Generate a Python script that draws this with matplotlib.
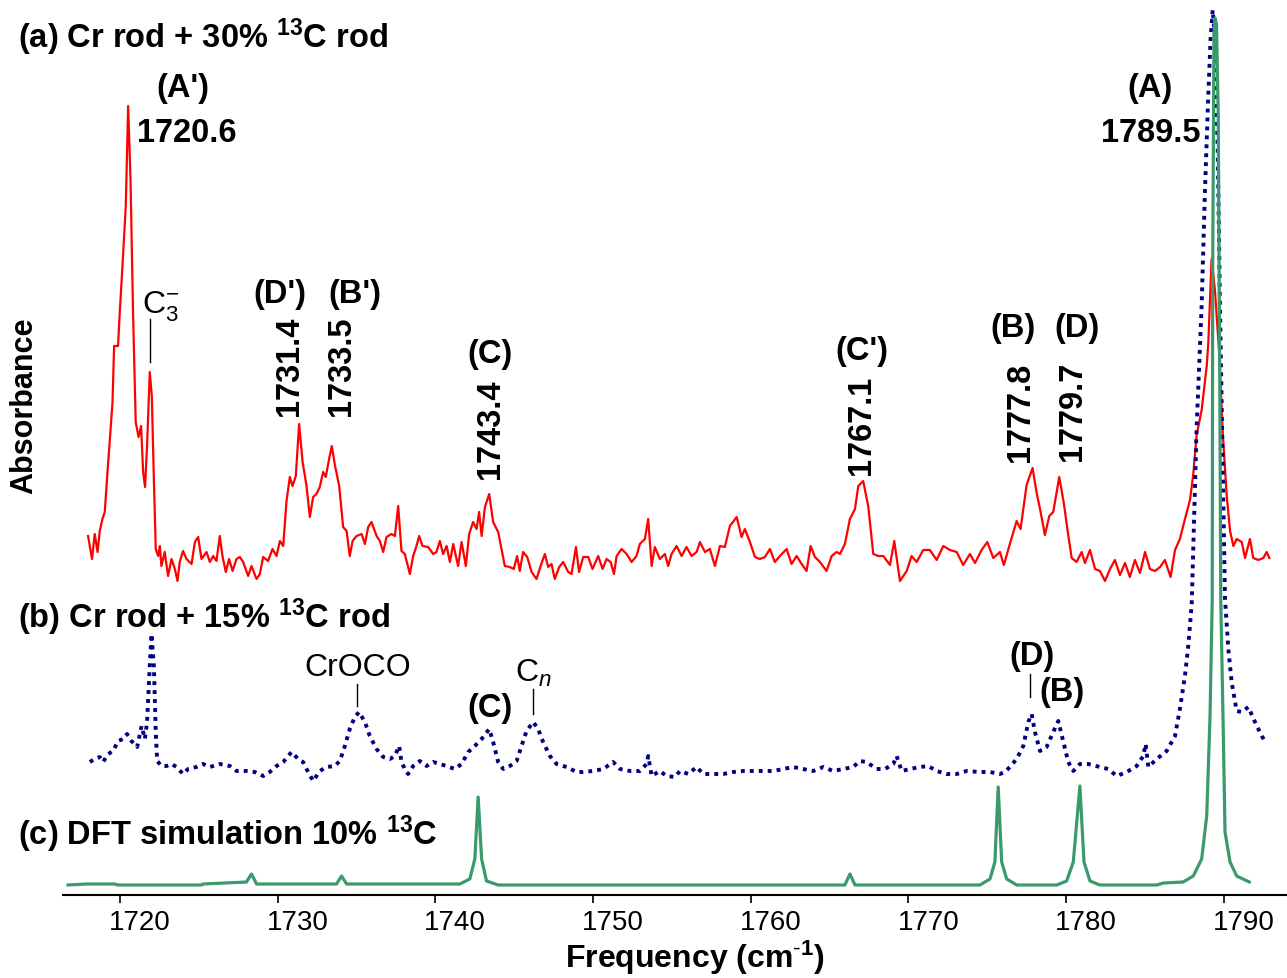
import numpy as np
import matplotlib.pyplot as plt
from matplotlib.transforms import ScaledTranslation

plt.rcParams['font.family'] = ['Liberation Sans', 'DejaVu Sans']
plt.rcParams['mathtext.fontset'] = 'custom'
plt.rcParams['mathtext.rm'] = 'Liberation Sans'
plt.rcParams['mathtext.it'] = 'Liberation Sans:italic'
plt.rcParams['mathtext.bf'] = 'Liberation Sans:bold'

# (a) Cr rod + 30% 13C rod
red_freq = [1717.99, 1718.24, 1718.41, 1718.59, 1718.73, 1718.90, 1719.05, 1719.19, 1719.37, 1719.54,
            1719.64, 1719.89, 1720.00, 1720.17, 1720.38, 1720.53, 1720.68, 1720.84, 1721.01, 1721.19,
            1721.35, 1721.48, 1721.60, 1721.73, 1721.90, 1722.03, 1722.16, 1722.28, 1722.43, 1722.54,
            1722.64, 1722.85, 1723.06, 1723.28, 1723.49, 1723.66, 1723.80, 1724.01, 1724.23, 1724.55,
            1724.76, 1724.97, 1725.18, 1725.50, 1725.71, 1725.92, 1726.13, 1726.34, 1726.51, 1726.72,
            1726.93, 1727.15, 1727.40, 1727.61, 1727.82, 1728.14, 1728.35, 1728.67, 1728.88, 1729.09,
            1729.40, 1729.68, 1729.94, 1730.15, 1730.36, 1730.57, 1730.78, 1730.95, 1731.16, 1731.37,
            1731.59, 1731.84, 1732.05, 1732.26, 1732.47, 1732.68, 1732.89, 1733.06, 1733.27, 1733.44,
            1733.65, 1733.91, 1734.16, 1734.38, 1734.58, 1734.76, 1735.01, 1735.33, 1735.54, 1735.75,
            1735.96, 1736.28, 1736.49, 1736.70, 1736.91, 1737.23, 1737.44, 1737.65, 1737.86, 1738.07,
            1738.39, 1738.60, 1738.81, 1738.98, 1739.19, 1739.55, 1739.87, 1740.08, 1740.29, 1740.50,
            1740.72, 1740.93, 1741.14, 1741.45, 1741.67, 1741.94, 1742.15, 1742.40, 1742.62, 1742.78,
            1742.94, 1743.15, 1743.42, 1743.67, 1743.99, 1744.41, 1744.73, 1744.98, 1745.19, 1745.36,
            1745.57, 1745.83, 1746.11, 1746.42, 1746.68, 1746.95, 1747.16, 1747.37, 1747.58, 1747.86,
            1748.11, 1748.43, 1748.64, 1748.92, 1749.12, 1749.38, 1749.70, 1749.97, 1750.33, 1750.61,
            1750.86, 1751.12, 1751.33, 1751.50, 1751.81, 1752.13, 1752.45, 1752.76, 1752.97, 1753.29,
            1753.50, 1753.72, 1753.92, 1754.24, 1754.56, 1754.77, 1754.98, 1755.30, 1755.62, 1755.93,
            1756.25, 1756.57, 1756.78, 1757.10, 1757.41, 1757.73, 1758.05, 1758.36, 1758.68, 1759.11,
            1759.42, 1759.63, 1759.95, 1760.27, 1760.58, 1760.90, 1761.22, 1761.53, 1761.85, 1762.28,
            1762.59, 1762.91, 1763.23, 1763.54, 1763.80, 1764.07, 1764.39, 1764.81, 1765.13, 1765.45,
            1765.66, 1765.97, 1766.29, 1766.61, 1766.82, 1767.13, 1767.45, 1767.77, 1768.08, 1768.40,
            1768.83, 1769.10, 1769.46, 1769.89, 1770.20, 1770.52, 1770.94, 1771.36, 1771.79, 1772.21,
            1772.63, 1773.06, 1773.47, 1773.90, 1774.22, 1774.64, 1775.00, 1775.38, 1775.80, 1776.05,
            1776.43, 1776.86, 1777.11, 1777.49, 1777.87, 1778.13, 1778.38, 1778.65, 1778.93, 1779.18,
            1779.56, 1779.86, 1780.13, 1780.35, 1780.66, 1780.98, 1781.19, 1781.51, 1781.83, 1782.14,
            1782.46, 1782.78, 1783.09, 1783.41, 1783.73, 1784.04, 1784.36, 1784.68, 1785.00, 1785.31,
            1785.63, 1785.95, 1786.26, 1786.62, 1786.90, 1787.21, 1787.53, 1787.85, 1788.06, 1788.27,
            1788.59, 1788.91, 1789.01, 1789.22, 1789.43, 1789.71, 1789.92, 1790.18, 1790.39, 1790.60,
            1790.81, 1791.13, 1791.34, 1791.65, 1791.86, 1792.18, 1792.50, 1792.71, 1792.88]
red_abs = [0.23, 0.00, 0.25, 0.07, 0.28, 0.40, 0.47, 0.80, 1.20, 1.57,
           2.13, 2.13, 2.47, 2.93, 3.53, 4.53, 3.80, 2.47, 1.37, 1.22,
           1.33, 0.87, 0.72, 1.13, 1.87, 1.63, 0.80, 0.10, 0.03, 0.13,
           -0.07, 0.07, -0.17, 0.00, -0.10, -0.22, -0.03, 0.08, 0.00, -0.05,
           0.17, 0.22, 0.00, 0.07, -0.03, 0.03, -0.02, 0.23, 0.03, -0.13,
           0.00, -0.12, 0.00, 0.02, -0.03, -0.17, -0.07, -0.20, -0.15, 0.02,
           -0.02, 0.10, 0.03, 0.18, 0.13, 0.58, 0.82, 0.73, 0.83, 1.35,
           0.97, 0.73, 0.42, 0.62, 0.65, 0.72, 0.87, 0.82, 1.00, 1.13,
           0.93, 0.73, 0.32, 0.28, 0.03, 0.18, 0.23, 0.25, 0.15, 0.32,
           0.37, 0.23, 0.18, 0.07, 0.22, 0.25, 0.23, 0.53, 0.08, 0.05,
           -0.15, 0.03, 0.13, 0.23, 0.13, 0.12, 0.05, 0.07, 0.18, 0.05,
           0.13, -0.03, 0.15, -0.07, 0.17, -0.07, 0.25, 0.37, 0.30, 0.47,
           0.23, 0.52, 0.65, 0.37, 0.27, -0.07, -0.08, -0.10, 0.03, -0.12,
           0.07, 0.02, -0.13, -0.20, -0.07, 0.05, -0.08, -0.05, -0.20, -0.08,
           -0.03, -0.13, -0.15, 0.12, -0.13, 0.02, 0.02, -0.10, 0.03, -0.10,
           0.00, -0.03, -0.15, 0.03, 0.10, 0.05, -0.03, 0.03, 0.15, 0.20,
           0.40, -0.07, 0.12, 0.00, 0.05, -0.07, 0.05, 0.13, 0.03, 0.12,
           0.03, 0.07, 0.17, 0.07, 0.10, -0.07, 0.13, 0.12, 0.33, 0.42,
           0.22, 0.30, 0.17, 0.02, 0.00, 0.02, 0.10, -0.03, 0.03, 0.10,
           -0.05, 0.03, -0.05, -0.12, 0.13, 0.02, -0.03, -0.12, 0.03, 0.07,
           0.05, 0.15, 0.40, 0.50, 0.73, 0.78, 0.53, 0.05, 0.03, 0.03,
           -0.06, 0.18, -0.22, -0.12, 0.03, -0.03, 0.09, 0.09, -0.01, 0.13,
           0.09, 0.07, -0.06, 0.05, -0.04, 0.09, 0.17, 0.01, 0.07, -0.06,
           0.15, 0.38, 0.30, 0.74, 0.91, 0.66, 0.47, 0.24, 0.43, 0.47,
           0.82, 0.55, 0.24, 0.01, -0.03, 0.07, -0.04, 0.09, -0.10, -0.12,
           -0.22, -0.10, -0.01, -0.16, -0.04, -0.18, -0.01, -0.14, 0.07, -0.10,
           -0.12, -0.08, -0.01, -0.18, 0.09, 0.20, 0.40, 0.59, 0.85, 1.24,
           1.49, 1.93, 2.16, 3.00, 2.69, 2.04, 1.28, 0.63, 0.28, 0.13,
           0.20, 0.17, 0.01, 0.20, 0.01, -0.01, 0.01, 0.07, 0.01]

# (b) Cr rod + 15% 13C rod
blue_freq = [1718.10, 1718.41, 1718.73, 1718.94, 1719.26, 1719.58, 1719.89, 1720.21, 1720.46, 1720.74,
             1721.10, 1721.38, 1721.59, 1721.73, 1721.90, 1722.01, 1722.16, 1722.28, 1722.37, 1722.64,
             1722.96, 1723.28, 1723.60, 1724.01, 1724.33, 1724.86, 1725.28, 1725.71, 1726.34, 1726.98,
             1727.40, 1728.03, 1728.56, 1729.09, 1729.51, 1729.94, 1730.36, 1730.89, 1731.31, 1731.62,
             1731.94, 1732.26, 1732.68, 1733.11, 1733.63, 1733.95, 1734.27, 1734.58, 1734.90, 1735.17,
             1735.54, 1735.85, 1736.28, 1736.70, 1737.12, 1737.44, 1737.71, 1737.86, 1738.07, 1738.28,
             1738.60, 1739.02, 1739.45, 1739.87, 1740.29, 1740.72, 1741.24, 1741.67, 1742.09, 1742.51,
             1742.94, 1743.42, 1743.67, 1743.99, 1744.31, 1744.73, 1745.16, 1745.47, 1745.79, 1746.21,
             1746.52, 1746.84, 1747.27, 1747.69, 1748.33, 1748.96, 1749.38, 1750.01, 1750.65, 1751.28,
             1751.71, 1752.34, 1752.97, 1753.40, 1753.50, 1753.72, 1754.24, 1754.67, 1755.19, 1755.51,
             1756.04, 1756.57, 1756.99, 1757.62, 1758.26, 1758.89, 1759.52, 1760.16, 1760.79, 1761.43,
             1762.06, 1762.69, 1763.33, 1763.96, 1764.60, 1765.23, 1765.87, 1766.50, 1766.92, 1767.35,
             1767.98, 1768.51, 1769.04, 1769.25, 1769.57, 1770.09, 1770.73, 1771.25, 1771.79, 1772.42,
             1773.06, 1773.69, 1774.53, 1775.17, 1775.80, 1776.12, 1776.43, 1776.86, 1777.28, 1777.60,
             1777.81, 1778.02, 1778.34, 1778.76, 1779.18, 1779.50, 1779.82, 1780.13, 1780.45, 1780.87,
             1781.40, 1782.14, 1782.67, 1783.20, 1783.84, 1784.47, 1784.89, 1785.04, 1785.21, 1785.74,
             1786.37, 1786.90, 1787.21, 1787.53, 1787.74, 1787.96, 1788.27, 1788.59, 1788.80, 1789.01,
             1789.16, 1789.29, 1789.43, 1789.61, 1789.75, 1789.92, 1790.07, 1790.28, 1790.49, 1790.81,
             1791.13, 1791.55, 1791.97, 1792.40, 1792.60]
blue_abs = [0.07, 0.10, 0.12, 0.07, 0.15, 0.18, 0.28, 0.30, 0.35, 0.28,
            0.22, 0.43, 0.30, 0.47, 1.03, 1.35, 1.03, 0.37, 0.08, 0.03,
            0.03, 0.05, 0.02, -0.05, 0.00, 0.02, 0.05, 0.02, 0.05, 0.03,
            -0.02, -0.02, -0.03, -0.07, -0.03, 0.03, 0.07, 0.17, 0.10, 0.07,
            -0.03, -0.12, -0.02, 0.02, 0.03, 0.08, 0.23, 0.40, 0.52, 0.57,
            0.47, 0.33, 0.20, 0.12, 0.10, 0.13, 0.23, 0.07, 0.00, -0.05,
            0.03, 0.08, 0.03, 0.07, 0.05, 0.03, 0.00, 0.05, 0.17, 0.23,
            0.30, 0.40, 0.27, 0.07, 0.00, 0.03, 0.08, 0.23, 0.38, 0.47,
            0.40, 0.27, 0.13, 0.05, 0.02, -0.03, -0.03, -0.02, 0.00, 0.07,
            0.00, -0.02, -0.02, 0.05, 0.13, -0.07, -0.02, -0.07, -0.08, -0.02,
            -0.05, 0.02, -0.05, -0.05, -0.05, -0.03, -0.02, -0.02, -0.02, -0.02,
            0.00, 0.02, 0.00, -0.02, 0.02, -0.02, 0.00, 0.02, 0.08, 0.07,
            0.00, 0.00, 0.05, 0.13, -0.02, 0.00, 0.02, 0.03, -0.02, -0.05,
            -0.05, -0.02, -0.03, -0.03, -0.05, -0.03, 0.02, 0.10, 0.23, 0.47,
            0.55, 0.37, 0.18, 0.22, 0.37, 0.48, 0.27, 0.07, -0.02, 0.05,
            0.05, 0.02, 0.00, -0.07, -0.03, 0.03, 0.13, 0.25, 0.02, 0.10,
            0.18, 0.33, 0.60, 0.93, 1.23, 1.65, 3.41, 4.64, 5.79, 6.74,
            7.32, 7.59, 7.32, 6.17, 4.64, 3.11, 1.70, 1.20, 0.87, 0.58,
            0.57, 0.62, 0.47, 0.33, 0.28]

# (c) DFT simulation 10% 13C
green_freq = [1716.72, 1717.89, 1719.68, 1719.89, 1725.18, 1725.28, 1728.03, 1728.35, 1728.67, 1733.74,
              1734.06, 1734.38, 1741.56, 1742.19, 1742.51, 1742.72, 1742.94, 1743.25, 1743.99, 1765.97,
              1766.29, 1766.61, 1774.53, 1775.17, 1775.48, 1775.69, 1775.91, 1776.23, 1776.86, 1779.40,
              1780.03, 1780.45, 1780.87, 1781.13, 1781.51, 1782.14, 1785.74, 1786.16, 1787.42, 1788.06,
              1788.59, 1788.91, 1789.12, 1789.26, 1789.29, 1789.37, 1789.43, 1789.53, 1789.64, 1789.75,
              1789.80, 1789.96, 1790.07, 1790.39, 1790.81, 1791.61]
green_abs = [0.00, 0.01, 0.01, 0.00, 0.00, 0.01, 0.03, 0.11, 0.01, 0.01,
             0.09, 0.01, 0.01, 0.06, 0.26, 0.88, 0.26, 0.04, 0.00, 0.00,
             0.11, 0.00, 0.00, 0.06, 0.23, 0.98, 0.23, 0.06, 0.00, 0.00,
             0.04, 0.23, 0.99, 0.23, 0.04, 0.00, 0.00, 0.02, 0.03, 0.09,
             0.26, 0.69, 1.69, 2.86, 6.18, 8.48, 8.67, 8.61, 7.71, 4.65,
             2.86, 1.53, 0.53, 0.23, 0.09, 0.03]

tick_vals = [1720, 1730, 1740, 1750, 1760, 1770, 1780, 1790]

fig = plt.figure(figsize=(12.87, 9.79), dpi=100)
ax = fig.add_axes([63 / 1287, 83 / 979, 1224 / 1287, 896 / 979])

# vertical offsets for stacking the three traces
ax.plot(red_freq, np.array(red_abs) + 3.36, color='#ff0000', lw=1.6)
ax.plot(blue_freq, np.array(blue_abs) + 1.26, color='#000080', lw=2.8, ls=(0, (1, 1.3)))
ax.plot(green_freq, np.array(green_abs) + 0.10, color='#3a9a6b', lw=2.3)

ax.set_xlim(1716.4, 1794.0)
ax.set_ylim(0, 8.96)
for s in ['top', 'right', 'left']:
    ax.spines[s].set_visible(False)
ax.spines['bottom'].set_linewidth(1.5)
ax.set_yticks([])
ax.set_xticks(tick_vals)
ax.set_xticklabels([str(t) for t in tick_vals])
ax.tick_params(axis='x', direction='out', length=6, width=1.2, labelsize=20, pad=4)
shift = ScaledTranslation(0.2, 0, fig.dpi_scale_trans)
for lab in ax.get_xticklabels():
    lab.set_transform(lab.get_transform() + shift)

xlab = fig.text(695 / 1287, 21 / 979, r'Frequency (cm$^{\mathbf{\text{-}1}}$)', fontsize=23,
                fontweight='bold', ha='center', va='center')
try:
    fig.canvas.draw()
except Exception:
    xlab.set_text(r'Frequency (cm$^{\mathbf{-1}}$)')

fig.text(24 / 1287, 573 / 979, 'Absorbance', fontsize=22, fontweight='bold', rotation=90,
         ha='center', va='center')

fig.text(18 / 1287, 942 / 979, r'(a) Cr rod + 30% $^{\mathbf{13}}$C rod', fontsize=23.5,
         fontweight='bold', ha='left', va='center')
fig.text(18 / 1287, 362 / 979, r'(b) Cr rod + 15% $^{\mathbf{13}}$C rod', fontsize=23.5,
         fontweight='bold', ha='left', va='center')
fig.text(18 / 1287, 145 / 979, r'(c) DFT simulation 10% $^{\mathbf{13}}$C', fontsize=23.5,
         fontweight='bold', ha='left', va='center')

bold = dict(fontsize=23.5, fontweight='bold', ha='center', va='center')
ax.text(1724.0, 8.08, "(A')", **bold)
ax.text(1721.08, 7.63, '1720.6', fontsize=23.5, fontweight='bold', ha='left', va='center')
ax.text(1730.15, 6.01, "(D')", **bold)
ax.text(1734.90, 6.01, "(B')", **bold)
ax.text(1730.78, 5.30, '1731.4', rotation=90, **bold)
ax.text(1734.08, 5.30, '1733.5', rotation=90, **bold)
ax.text(1743.46, 5.42, '(C)', **bold)
ax.text(1743.53, 4.67, '1743.4', rotation=90, **bold)
ax.text(1767.05, 5.44, "(C')", **bold)
ax.text(1767.05, 4.71, '1767.1', rotation=90, **bold)
ax.text(1776.63, 5.67, '(B)', **bold)
ax.text(1780.69, 5.67, '(D)', **bold)
ax.text(1777.13, 4.84, '1777.8', rotation=90, **bold)
ax.text(1780.37, 4.85, '1779.7', rotation=90, **bold)
ax.text(1785.31, 8.07, '(A)', **bold)
ax.text(1785.38, 7.62, '1789.5', **bold)

ax.text(1743.46, 1.87, '(C)', **bold)
ax.text(1777.83, 2.40, '(D)', **bold)
ax.text(1779.73, 2.03, '(B)', **bold)

ax.text(1721.40, 5.83, r'C$_3^{-}$', fontsize=23, ha='left', va='baseline')
ax.plot([1721.90, 1721.90], [5.76, 5.33], color='black', lw=1)
ax.text(1735.09, 2.28, 'CrOCO', fontsize=23, ha='center', va='center')
ax.plot([1735.03, 1735.03], [2.11, 1.89], color='black', lw=1)
ax.text(1745.05, 2.14, r'C$_{n}$', fontsize=23, ha='left', va='baseline')
ax.plot([1746.19, 1746.19], [2.06, 1.81], color='black', lw=1)
ax.plot([1777.70, 1777.70], [2.21, 1.98], color='black', lw=1)

fig.savefig('out.png', dpi=100)
